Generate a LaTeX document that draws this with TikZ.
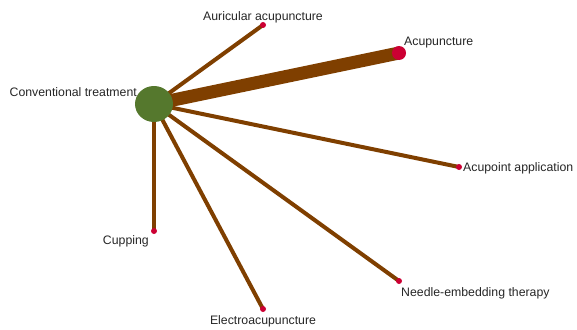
\documentclass[tikz,border=0pt]{standalone}
\usepackage{fontspec}
\setmainfont{Liberation Sans}
\begin{document}
\begin{tikzpicture}[x=1pt,y=-1pt,
  link/.style={draw=linkbrown,line width=4pt},
  hub/.style={ellipse,fill=hubgreen,minimum width=38pt,minimum height=36pt,inner sep=0pt},
  leaf/.style={circle,fill=leafred,minimum size=6pt,inner sep=0pt},
  big leaf/.style={circle,fill=leafred,minimum size=14pt,inner sep=0pt},
  lbl/.style={font=\fontsize{12.3}{14}\selectfont,text=black!85,inner sep=0pt}]
\usetikzlibrary{shapes.geometric}
\definecolor{linkbrown}{HTML}{7F3F00}
\definecolor{hubgreen}{HTML}{55782D}
\definecolor{leafred}{HTML}{CC0033}
\useasboundingbox (0,0) rectangle (577,329);
% node positions
\coordinate (pc) at (154,104);
\coordinate (paur) at (263,25);
\coordinate (pacu) at (399,53);
\coordinate (papp) at (459,167);
\coordinate (pneed) at (399,281);
\coordinate (pelec) at (263,309);
\coordinate (pcup) at (154,231);
% connectors
\draw[link,line width=13pt] (pc) -- (pacu);
\draw[link] (pc) -- (paur);
\draw[link] (pc) -- (papp);
\draw[link] (pc) -- (pneed);
\draw[link] (pc) -- (pelec);
\draw[link] (pc) -- (pcup);
% nodes
\node[hub] (ct) at (pc) {};
\node[leaf] (aur) at (paur) {};
\node[big leaf] (acu) at (pacu) {};
\node[leaf] (app) at (papp) {};
\node[leaf] (need) at (pneed) {};
\node[leaf] (elec) at (pelec) {};
\node[leaf] (cup) at (pcup) {};
% labels
\node[lbl,anchor=east] (tct) at (137,92) {Conventional treatment};
\node[lbl] (taur) at (263,17) {Auricular acupuncture};
\node[lbl,anchor=west] (tacu) at (404,43) {Acupuncture};
\node[lbl,anchor=west] (tapp) at (463,168) {Acupoint application};
\node[lbl,anchor=west] (tneed) at (401,293) {Needle-embedding therapy};
\node[lbl] (telec) at (263,321) {Electroacupuncture};
\node[lbl,anchor=east] (tcup) at (149,241) {Cupping};
\end{tikzpicture}
\end{document}
